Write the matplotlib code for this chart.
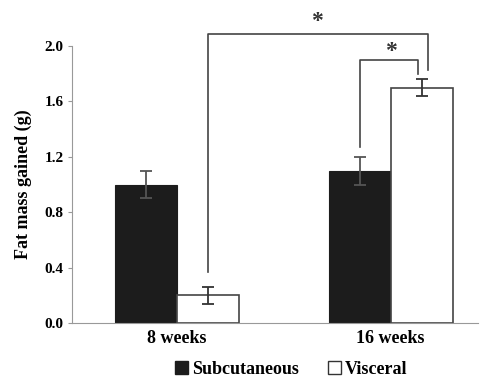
import matplotlib.pyplot as plt
from matplotlib.patches import Patch

# data
groups = ["8 weeks", "16 weeks"]
subcutaneous = [1.0, 1.1]
subcutaneous_err = [0.1, 0.1]
visceral = [0.2, 1.7]
visceral_err = [0.06, 0.06]
yticks = [0.0, 0.4, 0.8, 1.2, 1.6, 2.0]

plt.rcParams["font.family"] = ["Liberation Serif", "DejaVu Serif"]
plt.rcParams["font.weight"] = "bold"

fig = plt.figure(figsize=(4.93, 3.81), dpi=100)
ax = fig.add_axes([0.146, 0.152, 0.824, 0.727])

w = 0.29
x = [0, 1]
xs = [i - w / 2 for i in x]
xv = [i + w / 2 for i in x]

ax.bar(xs, subcutaneous, w, color="#1c1c1c", edgecolor="#1c1c1c", linewidth=0.8)
ax.bar(xv, visceral, w, color="white", edgecolor="#444444", linewidth=1.2)
ax.errorbar(xs, subcutaneous, yerr=subcutaneous_err, fmt="none", ecolor="#555555",
            elinewidth=1.3, capsize=4, capthick=1.3)
ax.errorbar(xv, visceral, yerr=visceral_err, fmt="none", ecolor="#333333",
            elinewidth=1.3, capsize=4, capthick=1.3)

# significance brackets
lc = "#444444"
ax.plot([xv[0], xv[0], xv[1] + 0.03, xv[1] + 0.03],
        [visceral[0] + 0.17, 2.085, 2.085, 1.83], color=lc, lw=1.2, clip_on=False)
ax.plot([xs[1], xs[1], xv[1] - 0.015, xv[1] - 0.015],
        [subcutaneous[1] + 0.17, 1.90, 1.90, 1.80], color=lc, lw=1.2, clip_on=False)
ax.text(0.657, 2.10, "*", ha="center", va="bottom", fontsize=17, color="#333333")
ax.text(1.0, 1.885, "*", ha="center", va="bottom", fontsize=17, color="#333333")

ax.set_xlim(-0.49, 1.41)
ax.set_ylim(0, 2.0)
ax.set_yticks(yticks)
ax.set_yticklabels([f"{v:.1f}" for v in yticks], fontsize=11, fontweight="bold")
ax.set_xticks(x)
ax.set_xticklabels(groups, fontsize=13, fontweight="bold")
ax.tick_params(axis="x", length=0, pad=5)
ax.tick_params(axis="y", length=3, color="#999999", width=0.8, pad=3)
ax.set_ylabel("Fat mass gained (g)", fontsize=13, fontweight="bold", labelpad=9)

for s in ["top", "right"]:
    ax.spines[s].set_visible(False)
ax.spines["left"].set_color("#999999")
ax.spines["bottom"].set_color("#999999")
ax.spines["left"].set_linewidth(0.8)
ax.spines["bottom"].set_linewidth(0.8)

handles = [Patch(facecolor="#1c1c1c", edgecolor="#1c1c1c", label="Subcutaneous"),
           Patch(facecolor="white", edgecolor="#333333", label="Visceral")]
fig.legend(handles=handles, loc="center", bbox_to_anchor=(0.59, 0.03), ncol=2,
           frameon=False, handlelength=0.75, handleheight=0.75, handletextpad=0.2,
           columnspacing=1.6, borderpad=0, prop={"size": 13, "weight": "bold"})

fig.savefig("out.png", dpi=100)
